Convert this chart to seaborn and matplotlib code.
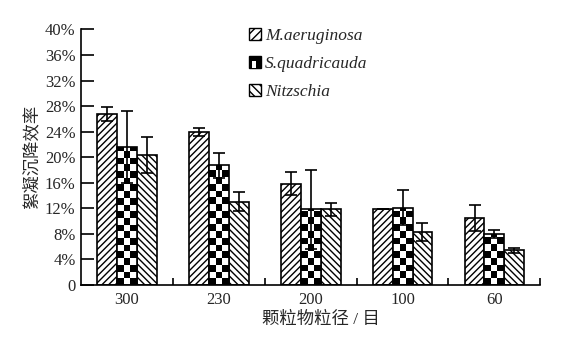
import numpy as np
import pandas as pd
import seaborn as sns
import matplotlib.pyplot as plt
from matplotlib.patches import Rectangle
from matplotlib.legend_handler import HandlerBase

# 数据 (%)
categories = ['300', '230', '200', '100', '60']
species = ['M.aeruginosa', 'S.quadricauda', 'Nitzschia']
m_vals = [26.8, 23.9, 15.8, 11.8, 10.5]
s_vals = [21.6, 18.7, 11.8, 12.1, 8.0]
n_vals = [20.3, 13.0, 11.8, 8.2, 5.4]
m_err = [1.1, 0.6, 1.8, 0.0, 2.0]
s_err = [5.6, 2.0, 6.2, 2.7, 0.6]
n_err = [2.8, 1.5, 1.0, 1.4, 0.4]
y_ticks = [0, 4, 8, 12, 16, 20, 24, 28, 32, 36, 40]

df = pd.DataFrame({
    'size': categories * 3,
    'species': [species[0]] * 5 + [species[1]] * 5 + [species[2]] * 5,
    'value': m_vals + s_vals + n_vals,
})
errs = [m_err, s_err, n_err]

sns.set_theme(style='white')
plt.rcParams['font.family'] = ['Liberation Serif', 'Noto Sans CJK SC']
plt.rcParams['hatch.linewidth'] = 1.0

fig = plt.figure(figsize=(5.67, 3.39), dpi=100)
ax = fig.add_axes([0.143, 0.160, 0.810, 0.753])

sns.barplot(data=df, x='size', y='value', hue='species', order=categories,
            hue_order=species, width=0.65, errorbar=None,
            palette=['white'] * 3, edgecolor='black', linewidth=1.2,
            legend=False, ax=ax)

hatches = ['/////', None, '\\\\\\\\\\']
bar_conts = list(ax.containers)
for k, cont in enumerate(bar_conts):
    for i, p in enumerate(cont.patches):
        p.set_facecolor('white')
        p.set_edgecolor('black')
        if hatches[k]:
            p.set_hatch(hatches[k])
        x0 = p.get_x()
        w = p.get_width()
        h = p.get_height()
        if k == 1:
            # 棋盘格填充
            nrow = int(np.ceil(h / 1.05))
            grid = np.indices((nrow, 3)).sum(axis=0) % 2
            im = ax.imshow(grid, cmap='gray', origin='lower', aspect='auto',
                           interpolation='nearest',
                           extent=(x0, x0 + w, 0, nrow * 1.05), zorder=p.get_zorder())
            im.set_clip_path(p)
            p.set_zorder(p.get_zorder() + 0.1)
            p.set_facecolor('none')
        ax.errorbar(x0 + w / 2, h, yerr=errs[k][i], color='black', lw=1.2,
                    capsize=4, capthick=1.2, zorder=5)

ax.set_xlim(-0.5, 4.5)
ax.set_ylim(0, 40)
ax.set_aspect('auto')
ax.set_yticks(y_ticks)
ax.set_yticklabels(['0'] + [f'{v}%' for v in y_ticks[1:]], fontsize=12)
ax.set_xticks(range(5))
ax.set_xticklabels(categories, fontsize=12)
ax.set_xticks(np.arange(0.5, 4.6, 1), minor=True)
ax.tick_params(axis='x', which='major', length=0, pad=5)
ax.tick_params(axis='x', which='minor', direction='in', length=5, width=1.2, color='black', bottom=True)
ax.tick_params(axis='y', direction='in', length=9, width=1.2, color='black', pad=4, left=True)
for s in ['top', 'right']:
    ax.spines[s].set_visible(False)
for s in ['left', 'bottom']:
    ax.spines[s].set_color('black')
    ax.spines[s].set_linewidth(1.2)

ax.set_xlabel('颗粒物粒径 / 目', fontsize=12.5, labelpad=3)
ax.xaxis.label.set_x(0.523)
ax.set_ylabel('絮凝沉降效率', fontsize=12.5, labelpad=3)


class CheckerHandler(HandlerBase):
    def create_artists(self, legend, orig_handle, xdescent, ydescent,
                       width, height, fontsize, trans):
        out = [Rectangle((-xdescent, -ydescent), width, height, facecolor='black',
                         edgecolor='black', lw=1, transform=trans)]
        out.append(Rectangle((-xdescent + width * 0.25, -ydescent + height * 0.0),
                             width * 0.35, height * 0.6, facecolor='white',
                             edgecolor='none', transform=trans))
        return out


handles = [Rectangle((0, 0), 1, 1, facecolor='white', edgecolor='black', hatch='////'),
           Rectangle((0, 0), 1, 1, facecolor='black'),
           Rectangle((0, 0), 1, 1, facecolor='white', edgecolor='black', hatch='\\\\\\\\')]
leg = fig.legend(handles, species, loc='upper left', bbox_to_anchor=(0.423, 0.942),
                 frameon=False, handlelength=0.7, handleheight=0.7,
                 handletextpad=0.25, labelspacing=0.67, borderpad=0,
                 prop={'family': 'Liberation Serif', 'style': 'italic', 'size': 12.5},
                 handler_map={handles[1]: CheckerHandler()})

fig.savefig('out.png', dpi=100)
